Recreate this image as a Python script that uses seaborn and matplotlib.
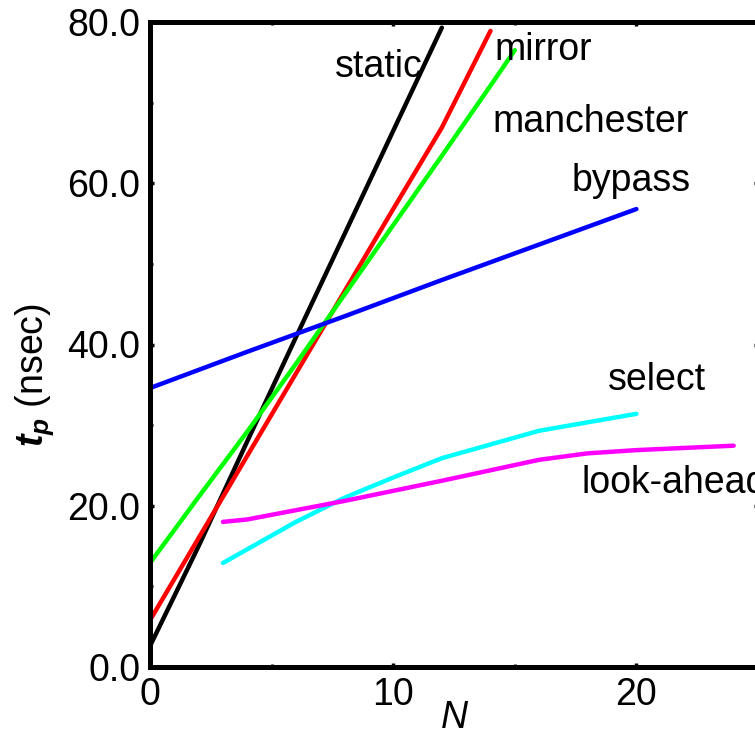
import pandas as pd
import matplotlib
matplotlib.use("Agg")
import matplotlib.pyplot as plt
import seaborn as sns
from matplotlib.ticker import MultipleLocator, FormatStrFormatter

sns.set_style("ticks", {"axes.edgecolor": "black", "text.color": "black",
                        "axes.labelcolor": "black", "xtick.color": "black",
                        "ytick.color": "black"})
plt.rcParams["font.family"] = ["Liberation Sans", "DejaVu Sans"]
plt.rcParams["mathtext.fontset"] = "custom"
plt.rcParams["mathtext.it"] = "Liberation Sans:italic:bold"
plt.rcParams["mathtext.rm"] = "Liberation Sans"

# adder delay data
static_n = [0, 2, 4, 6, 8, 10, 12]
static_t = [2.6, 15.0, 28.0, 40.9, 53.7, 66.5, 79.3]

mirror_n = [0, 2, 4, 6, 8, 10, 12, 14]
mirror_t = [5.8, 16.0, 26.2, 36.4, 46.6, 56.8, 66.9, 78.9]

manch_n = [0, 2, 4, 6, 8, 10, 12, 14, 15]
manch_t = [12.9, 21.1, 29.2, 37.6, 46.2, 54.8, 63.4, 72.1, 76.5]

bypass_n = [0, 4, 8, 12, 16, 20]
bypass_t = [34.6, 39.1, 43.5, 48.0, 52.4, 56.8]

select_n = [3, 4, 6, 8, 10, 12, 16, 20]
select_t = [12.9, 14.6, 18.0, 21.0, 23.5, 25.9, 29.3, 31.4]

look_n = [3, 4, 8, 12, 16, 18, 20, 24]
look_t = [18.0, 18.3, 20.6, 23.1, 25.7, 26.5, 26.9, 27.45]

names = ["static", "mirror", "manchester", "bypass", "select", "look-ahead"]
colors = ["#000000", "#ff0000", "#00ff00", "#0000ff", "#00ffff", "#ff00ff"]

frames = []
for name, n, t in zip(names,
                      [static_n, mirror_n, manch_n, bypass_n, select_n, look_n],
                      [static_t, mirror_t, manch_t, bypass_t, select_t, look_t]):
    frames.append(pd.DataFrame({"N": n, "tp": t, "adder": name}))
df = pd.concat(frames, ignore_index=True)

fig = plt.figure(figsize=(7.55, 7.37), dpi=100)
ax = fig.add_axes([150 / 755, 70 / 737, 608 / 755, 645 / 737])

sns.lineplot(data=df, x="N", y="tp", hue="adder", palette=dict(zip(names, colors)),
             estimator=None, sort=True, linewidth=3.2, legend=False, ax=ax)

ax.set_xlim(0, 25)
ax.set_ylim(0, 80)
ax.xaxis.set_major_locator(MultipleLocator(10))
ax.xaxis.set_minor_locator(MultipleLocator(5))
ax.yaxis.set_major_locator(MultipleLocator(20))
ax.yaxis.set_minor_locator(MultipleLocator(10))
ax.yaxis.set_major_formatter(FormatStrFormatter("%.1f"))

for s in ax.spines.values():
    s.set_linewidth(3.6)
    s.set_color("black")
ax.tick_params(which="both", direction="in", top=True, right=True,
               labelsize=27, pad=7, colors="black")
ax.tick_params(which="major", length=3, width=2.5)
ax.tick_params(which="minor", length=2.5, width=2)

ax.set_xlabel("N", fontsize=27, fontstyle="italic", labelpad=-9, color="black")
ax.set_ylabel("")
fig.text(35 / 755, 1 - 375 / 737, r"$t_p$ (nsec)", rotation=90,
         ha="center", va="center", fontsize=27, color="black")

# curve labels
labels = [("static", 7.6, 73.2), ("mirror", 14.18, 75.3),
          ("manchester", 14.09, 66.4), ("bypass", 17.33, 59.1),
          ("select", 18.82, 34.4), ("look-ahead", 17.74, 21.6)]
for txt, x, y in labels:
    ax.text(x, y, txt, fontsize=27, ha="left", va="baseline", color="black",
            clip_on=False)

fig.savefig("out.png", dpi=100)
